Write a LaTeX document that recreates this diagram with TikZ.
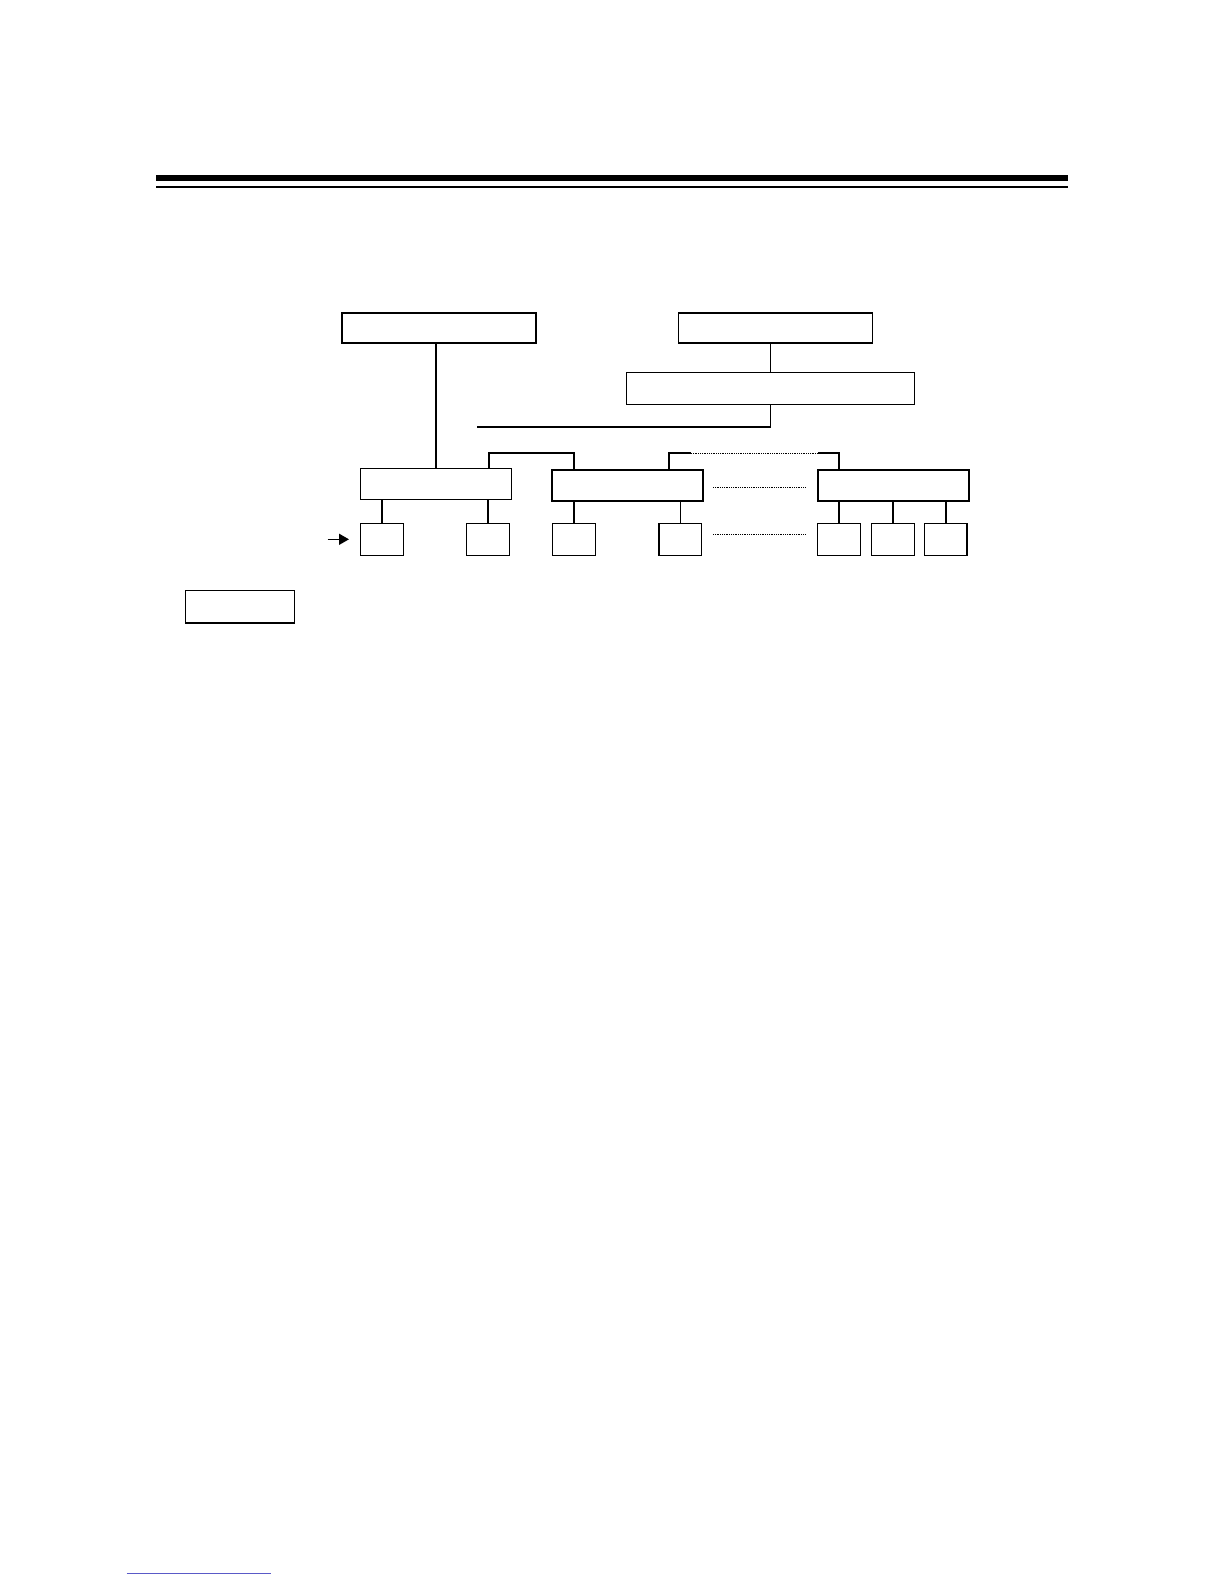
\documentclass[tikz,border=0pt]{standalone}
\usepackage{tikz}
\definecolor{myblue}{RGB}{90,90,200}
\usetikzlibrary{positioning,arrows.meta,calc}

\begin{document}
\begin{tikzpicture}[x=0.5bp,y=-0.5bp,
    every node/.style={draw,rectangle,line width=0.7bp,inner sep=0pt},
    topbox/.style={minimum width=97bp,minimum height=15bp},
    widebox/.style={minimum width=143.8bp,minimum height=15.8bp},
    midbox/.style={minimum width=75.4bp,minimum height=15.5bp},
    leafbox/.style={minimum width=21.3bp,minimum height=16bp},
    link/.style={line width=0.7bp},
    dots/.style={line width=0.45bp,dash pattern=on 0.45bp off 0.45bp}
    ]

    \useasboundingbox (0,0) rectangle (1224,1584);

    % header rules
    \fill (156,175) rectangle (1067.7,181);
    \fill (156,185.7) rectangle (1067.7,187.7);

    \node (a) [topbox] at (439,328) {};
    \node (b) [topbox] at (775.7,328) {};
    \node (d) [widebox] at (770.5,388.5) {};
    \node (c) [midbox] at (436,484) {};
    \node (e) [midbox] at (627.5,485.5) {};
    \node (f) [midbox] at (893.5,485.5) {};
    \node (g) [minimum width=54.5bp,minimum height=16.3bp] at (239.8,606.7) {};

    \node (l1) [leafbox] at (382,539.3) {};
    \node (l2) [leafbox] at (488,539.3) {};
    \node (l3) [leafbox] at (574,539.3) {};
    \node (l4) [leafbox] at (680.2,539.3) {};
    \node (l5) [leafbox] at (839,539.3) {};
    \node (l6) [leafbox] at (892.9,539.3) {};
    \node (l7) [leafbox] at (945.8,539.3) {};

    \coordinate (trunk) at (477,427);
    \coordinate (jc) at (489,453);
    \coordinate (je) at (574,453);
    \coordinate (ke) at (669,453);
    \coordinate (kd1) at (691,453);
    \coordinate (kd2) at (818,453);
    \coordinate (kf) at (839,453);
    \coordinate (m1) at (713,487.3);
    \coordinate (m2) at (805,487.3);
    \coordinate (n1) at (713,534.3);
    \coordinate (n2) at (805,534.3);
    \coordinate (arr) at (327.5,539.3);

    % the edges
    \draw[link] (c.north) -- (c.north |- a.south);
    \draw[link] (d.north) -- (d.north |- b.south);
    \draw[link] (d.south) |- (trunk);
    \draw[link] (jc |- c.north) -- (jc) -- (je) -- (je |- e.north);
    \draw[link] (ke |- e.north) -- (ke) -- (kd1);
    \draw[dots] (kd1) -- (kd2);
    \draw[link] (kd2) -- (kf) -- (kf |- f.north);
    \draw[dots] (m1) -- (m2);
    \draw[dots] (n1) -- (n2);

    \draw[link] (l1) -- (l1 |- c.south);
    \draw[link] (l2) -- (l2 |- c.south);
    \draw[link] (l3) -- (l3 |- e.south);
    \draw[link] (l4) -- (l4 |- e.south);
    \draw[link] (l5) -- (l5 |- f.south);
    \draw[link] (l6) -- (l6 |- f.south);
    \draw[link] (l7) -- (l7 |- f.south);

    \draw[line width=0.75bp,-{Triangle[length=5bp,width=5.5bp]},shorten >=5.5bp] (arr) -- (l1);

    \draw[myblue,line width=0.5bp] (126.7,1573) -- (271,1573);
\end{tikzpicture}
\end{document}
